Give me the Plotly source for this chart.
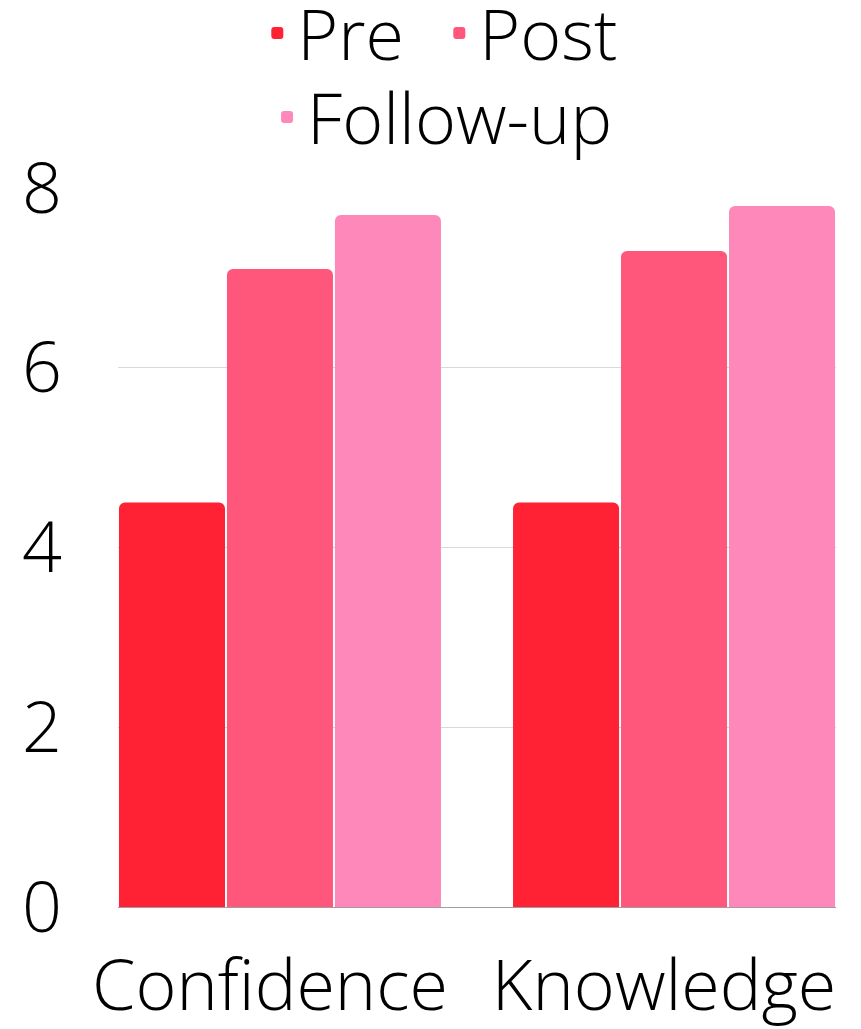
import plotly.graph_objects as go

categories = ["Confidence", "Knowledge"]
series_names = ["Pre", "Post", "Follow-up"]
pre_values = [4.5, 4.5]
post_values = [7.1, 7.3]
followup_values = [7.7, 7.8]
colors = ["#FF2234", "#FF567B", "#FF88BA"]
legend_ids = ["legend", "legend", "legend2"]
y_ticks = [0, 2, 4, 6, 8]

FONT = "Open Sans"
FS = 70
fig = go.Figure()
for name, vals, col, lg in zip(series_names, [pre_values, post_values, followup_values], colors, legend_ids):
    fig.add_trace(go.Bar(x=categories, y=vals, name=name, legend=lg,
                         marker=dict(color=col, line=dict(width=0))))

legend_common = dict(orientation="h", xanchor="center", yanchor="top", yref="paper",
                     font=dict(size=FS, family=FONT, weight=300, color="black"),
                     bgcolor="rgba(0,0,0,0)")
fig.update_layout(
    width=861, height=1029,
    margin=dict(l=118, r=25, t=188, b=122, autoexpand=False),
    barmode="group", bargap=0.178, bargroupgap=0.018, barcornerradius=6,
    plot_bgcolor="white", paper_bgcolor="white",
    font=dict(family=FONT, size=FS, color="black", weight=300),
    legend=dict(legend_common, x=0.4475, y=1.288, entrywidth=137),
    legend2=dict(legend_common, x=0.452, y=1.171),
    showlegend=True,
)
fig.update_xaxes(range=[-0.411, 1.411], showgrid=False, ticks="", ticklabelstandoff=32,
                 ticklabelshift=-10, tickfont=dict(size=FS, family=FONT, weight=300))
fig.update_yaxes(range=[0, 8], tickvals=y_ticks, showgrid=True, gridcolor="#D9D9D9", gridwidth=1,
                 zeroline=True, zerolinecolor="#9E9E9E", zerolinewidth=1,
                 ticklabelstandoff=55, tickfont=dict(size=FS, family=FONT, weight=300))
fig.write_html("out.html")
